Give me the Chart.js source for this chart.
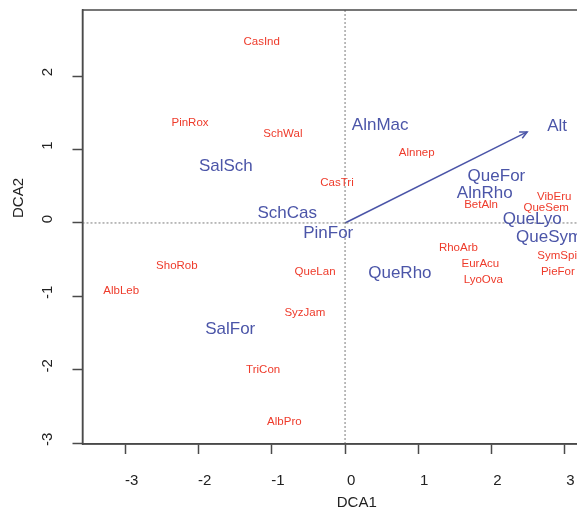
<!DOCTYPE html>
<html>
<head>
<meta charset="utf-8">
<style>
  html, body { margin: 0; padding: 0; background: #fff; overflow: hidden; }
  #wrap { width: 577px; height: 512px; overflow: hidden; }
  canvas { display: block; }
</style>
<script src="https://cdn.jsdelivr.net/npm/chart.js@4/dist/chart.umd.min.js"></script>
</head>
<body>
<div id="wrap"><canvas id="c" width="660" height="512"></canvas></div>
<script>
// DCA ordination: site scores, species scores and the fitted altitude vector
const xTicks = [-3, -2, -1, 0, 1, 2, 3];
const yTicks = [-3, -2, -1, 0, 1, 2];

const siteNames = ['AlnMac', 'SalSch', 'SchCas', 'PinFor', 'QueFor', 'AlnRho', 'QueLyo', 'QueSym', 'QueRho', 'SalFor'];
const siteX = [0.48, -1.63, -0.79, -0.23, 2.07, 1.91, 2.56, 2.79, 0.75, -1.57];
const siteY = [1.33, 0.77, 0.13, -0.14, 0.64, 0.40, 0.05, -0.19, -0.69, -1.45];

const speciesNames = ['CasInd', 'PinRox', 'SchWal', 'CasTri', 'Alnnep', 'BetAln', 'VibEru', 'QueSem', 'RhoArb', 'EurAcu',
                      'LyoOva', 'SymSpi', 'PieFor', 'ShoRob', 'AlbLeb', 'QueLan', 'SyzJam', 'TriCon', 'AlbPro'];
const speciesX = [-1.14, -2.12, -0.85, -0.11, 0.98, 1.86, 2.86, 2.75, 1.55, 1.85,
                  1.89, 2.90, 2.91, -2.30, -3.06, -0.41, -0.55, -1.12, -0.83];
const speciesY = [2.46, 1.37, 1.22, 0.55, 0.95, 0.25, 0.36, 0.21, -0.34, -0.55,
                  -0.78, -0.45, -0.67, -0.58, -0.92, -0.67, -1.22, -2.00, -2.71];

const envNames = ['Alt'];
const envX = [2.49];
const envY = [1.24];
const envLabelX = [2.90];
const envLabelY = [1.32];

const xRange = [-3.59, 3.91];
const yRange = [-3.01, 2.90];

const BLUE = '#4b55a8';
const RED = '#ee3b2b';
const AXIS = '#4a4a4a';
const FONT = '"Liberation Sans", Arial, Helvetica, sans-serif';

const pts = (xs, ys) => xs.map((x, i) => ({ x, y: ys[i] }));

// Draws the text labels at their points, the arrowhead, the box and the y axis title
const ordiPlugin = {
  id: 'ordi',
  afterDatasetsDraw(chart) {
    const ctx = chart.ctx;
    const area = chart.chartArea;
    ctx.save();
    // plot box
    ctx.strokeStyle = AXIS;
    ctx.lineWidth = 1.5;
    ctx.strokeRect(area.left, area.top, area.right - area.left, area.bottom - area.top);

    chart.data.datasets.forEach((ds, di) => {
      const meta = chart.getDatasetMeta(di);
      if (ds.arrow) {
        const a = meta.data[0], b = meta.data[1];
        const ang = Math.atan2(b.y - a.y, b.x - a.x);
        const len = 8, spread = Math.PI / 7;
        ctx.strokeStyle = ds.borderColor;
        ctx.lineWidth = 1.5;
        ctx.beginPath();
        ctx.moveTo(b.x - len * Math.cos(ang - spread), b.y - len * Math.sin(ang - spread));
        ctx.lineTo(b.x, b.y);
        ctx.lineTo(b.x - len * Math.cos(ang + spread), b.y - len * Math.sin(ang + spread));
        ctx.stroke();
      }
      if (ds.textLabels) {
        ctx.fillStyle = ds.textColor;
        ctx.font = ds.textFont;
        ctx.textAlign = 'center';
        ctx.textBaseline = 'middle';
        meta.data.forEach((el, i) => ctx.fillText(ds.textLabels[i], el.x, el.y));
      }
    });

    // y axis title
    const ys = chart.scales.y;
    ctx.fillStyle = '#222';
    ctx.font = '15px ' + FONT;
    ctx.textAlign = 'center';
    ctx.textBaseline = 'middle';
    ctx.translate(19, ys.getPixelForValue(0.34));
    ctx.rotate(-Math.PI / 2);
    ctx.fillText('DCA2', 0, 0);
    ctx.restore();
  }
};

new Chart(document.getElementById('c'), {
  type: 'scatter',
  data: {
    datasets: [
      { type: 'line', data: [{ x: 0, y: yRange[0] }, { x: 0, y: yRange[1] }], borderColor: '#7a7a7a',
        borderWidth: 1, borderDash: [2, 2], pointRadius: 0 },
      { type: 'line', data: [{ x: xRange[0], y: 0 }, { x: xRange[1], y: 0 }], borderColor: '#7a7a7a',
        borderWidth: 1, borderDash: [2, 2], pointRadius: 0 },
      { type: 'line', arrow: true, data: [{ x: 0, y: 0 }, { x: envX[0], y: envY[0] }], borderColor: BLUE,
        borderWidth: 1.5, pointRadius: 0 },
      { data: pts(speciesX, speciesY), pointRadius: 0, textLabels: speciesNames, textColor: RED,
        textFont: '11.5px ' + FONT },
      { data: pts(siteX, siteY), pointRadius: 0, textLabels: siteNames, textColor: BLUE,
        textFont: '17px ' + FONT },
      { data: pts(envLabelX, envLabelY), pointRadius: 0, textLabels: envNames, textColor: BLUE,
        textFont: '17px ' + FONT }
    ]
  },
  options: {
    responsive: false,
    animation: false,
    devicePixelRatio: 1,
    layout: { padding: { top: 10, right: 29, bottom: 0, left: 0 } },
    plugins: { legend: { display: false }, tooltip: { enabled: false } },
    scales: {
      x: {
        type: 'linear',
        min: xRange[0],
        max: xRange[1],
        afterBuildTicks: s => { s.ticks = xTicks.map(v => ({ value: v })); },
        afterFit: s => { s.height = 68; s.paddingLeft = 0; s.paddingRight = 0; },
        border: { display: true, color: AXIS, width: 1.5 },
        grid: { drawOnChartArea: false, drawTicks: true, tickLength: 10, tickColor: AXIS, tickWidth: 1.5 },
        ticks: { color: '#222', font: { size: 15, family: FONT }, padding: 18, labelOffset: 6,
                 autoSkip: false, maxRotation: 0 },
        title: { display: true, text: 'DCA1', color: '#222', font: { size: 15, family: FONT },
                 padding: { top: 0, bottom: 0 } }
      },
      y: {
        type: 'linear',
        min: yRange[0],
        max: yRange[1],
        afterBuildTicks: s => { s.ticks = yTicks.map(v => ({ value: v })); },
        afterFit: s => { s.width = 82.5; s.paddingTop = 0; s.paddingBottom = 0; },
        border: { display: true, color: AXIS, width: 1.5 },
        grid: { drawOnChartArea: false, drawTicks: true, tickLength: 10, tickColor: AXIS, tickWidth: 1.5 },
        ticks: { color: '#222', font: { size: 15, family: FONT }, padding: 18, labelOffset: -4,
                 autoSkip: false, minRotation: 90, maxRotation: 90, crossAlign: 'center' },
        title: { display: false }
      }
    }
  },
  plugins: [ordiPlugin]
});
</script>
</body>
</html>
